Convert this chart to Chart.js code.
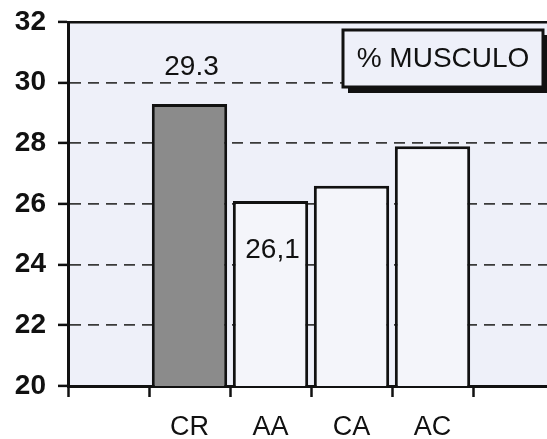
<!DOCTYPE html>
<html>
<head>
<meta charset="utf-8">
<script src="https://cdn.jsdelivr.net/npm/chart.js@4"></script>
<style>
  html, body { margin: 0; padding: 0; background: #fff; overflow: hidden; }
  #wrap { width: 554px; height: 439px; }
</style>
</head>
<body>
<div id="wrap"><canvas id="chart1" width="554" height="439"></canvas></div>
<script>
// data
const categories = ['', 'CR', 'AA', 'CA', 'AC', '']
const musculo = [null, 29.3, 26.1, 26.6, 27.9, null]
const valueNotes = ['', '29.3', '26,1', '', '', '']
const yTicks = [20, 22, 24, 26, 28, 30, 32]
const boxTitle = '% MUSCULO'

const FONT = '"Liberation Sans", Arial, sans-serif'
const PLOT_BG = '#eef0f9'

const plotBg = {
    id: 'plotBg',
    beforeDraw(chart) {
        const { ctx, chartArea: a } = chart
        ctx.save()
        ctx.fillStyle = PLOT_BG
        ctx.fillRect(a.left, a.top, a.right - a.left, a.bottom - a.top)
        ctx.restore()
    }
}

// the two numbers written on the chart
const notes = {
    id: 'notes',
    afterDatasetsDraw(chart) {
        const { ctx } = chart
        const bars = chart.getDatasetMeta(0).data
        ctx.save()
        ctx.font = '28px ' + FONT
        ctx.fillStyle = '#111'
        ctx.textAlign = 'center'
        ctx.textBaseline = 'middle'
        valueNotes.forEach((txt, i) => {
            if (!txt) return
            const bar = bars[i]
            // first note sits above its bar, the other inside it
            const y = i === 1 ? bar.y - 37 : bar.y + 49
            ctx.fillText(txt, bar.x + 2, y)
        })
        ctx.restore()
    }
}

// boxed title with drop shadow, top right
const titleBox = {
    id: 'titleBox',
    afterDraw(chart) {
        const { ctx, chartArea: a } = chart
        const x = a.left + 275, y = a.top + 8, w = 200, h = 57
        ctx.save()
        ctx.fillStyle = '#111'
        ctx.fillRect(x + 5, y + 5, w, h + 1)
        ctx.fillStyle = PLOT_BG
        ctx.fillRect(x, y, w, h)
        ctx.lineWidth = 3
        ctx.strokeStyle = '#111'
        ctx.strokeRect(x, y, w, h)
        ctx.font = '28px ' + FONT
        ctx.fillStyle = '#111'
        ctx.textAlign = 'center'
        ctx.textBaseline = 'middle'
        ctx.fillText(boxTitle, x + w / 2, y + h / 2 + 1)
        ctx.restore()
    }
}

new Chart('chart1', {
    type: 'bar',
    data: {
        labels: categories,
        datasets: [{
            data: musculo,
            backgroundColor: categories.map(c => c === 'CR' ? '#8b8b8b' : '#f4f5fa'),
            borderColor: '#111',
            borderWidth: 3,
            barPercentage: 0.93,
            categoryPercentage: 1
        }]
    },
    options: {
        responsive: false,
        animation: false,
        layout: { padding: { top: 22, left: 0, right: 0, bottom: 0 } },
        plugins: { legend: { display: false }, tooltip: { enabled: false } },
        scales: {
            x: {
                grid: {
                    offset: true,
                    drawOnChartArea: false,
                    tickLength: 11,
                    tickWidth: 2.5,
                    tickColor: '#111'
                },
                border: { display: true, color: '#111', width: 3 },
                ticks: {
                    padding: 14,
                    color: '#111',
                    font: { family: FONT, size: 27 }
                },
                afterFit: s => { s.height = 53; s.paddingLeft = 0; s.paddingRight = 0 }
            },
            x2: {
                position: 'top',
                type: 'category',
                labels: categories,
                grid: { display: false, drawTicks: false },
                border: { display: true, color: '#111', width: 2.5 },
                ticks: { display: false },
                afterFit: s => { s.height = 0 }
            },
            y: {
                min: Math.min(...yTicks),
                max: Math.max(...yTicks),
                ticks: {
                    stepSize: 2,
                    padding: 12,
                    color: '#111',
                    font: { family: FONT, size: 28, weight: 'bold' }
                },
                grid: {
                    color: c => (c.tick && (c.tick.value === 20 || c.tick.value === 32)) ? 'rgba(0,0,0,0)' : '#3a3a3a',
                    lineWidth: 1.8,
                    tickLength: 10,
                    tickWidth: 2.5,
                    tickColor: '#111',
                    tickBorderDash: []
                },
                border: { display: true, color: '#111', width: 3, dash: [11, 7] },
                afterFit: s => { s.width = 68; s.paddingTop = 0; s.paddingBottom = 0 }
            }
        }
    },
    plugins: [plotBg, notes, titleBox]
})
</script>
</body>
</html>
